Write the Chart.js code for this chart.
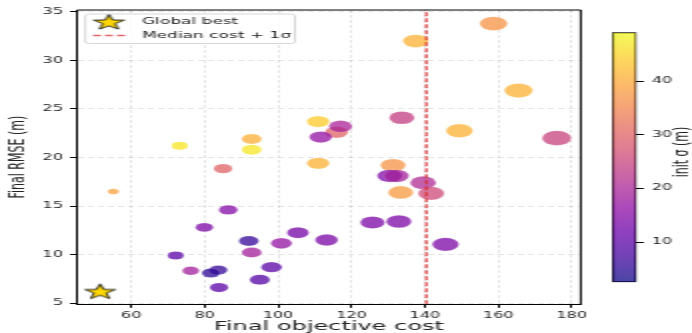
<!DOCTYPE html>
<html>
<head>
<meta charset="utf-8">
<script src="https://cdn.jsdelivr.net/npm/chart.js@4.4.1/dist/chart.umd.min.js"></script>
<style>
  html, body { margin: 0; padding: 0; background: #fff; overflow: hidden; }
  /* the reference image is stretched horizontally, so draw at half width and stretch */
  #wrap { position: absolute; left: 0; top: 0; width: 346px; height: 333px; transform: scaleX(2); transform-origin: 0 0; }
  #wrap canvas { position: absolute; left: 0; top: 0; }
</style>
</head>
<body>
<div id="wrap">
  <canvas id="main" width="346" height="333"></canvas>
  <canvas id="cbar" width="346" height="333"></canvas>
</div>
<script>
// final objective cost of each run
var cost = [73.2, 92.8, 92.8, 85.0, 86.4, 79.9, 92.0, 100.9, 105.4, 72.1,
            92.8, 98.2, 76.2, 83.7, 81.7, 95.0, 83.9, 110.9, 115.9, 117.0,
            111.6, 110.9, 133.7, 149.4, 131.3, 130.4, 132.2, 133.4, 139.5, 141.7,
            125.7, 132.9, 145.6, 113.2, 158.7, 137.5, 165.5, 175.9, 55.1];
// final RMSE (m)
var rmse = [21.2, 21.9, 20.8, 18.85, 14.6, 12.8, 11.4, 11.15, 12.25, 9.9,
            10.2, 8.7, 8.33, 8.4, 8.1, 7.4, 6.6, 23.7, 22.6, 23.2,
            22.1, 19.4, 24.1, 22.75, 19.2, 18.1, 18.1, 16.4, 17.4, 16.3,
            13.3, 13.4, 11.05, 11.5, 33.8, 32.0, 26.9, 22.0, 16.5];
// initial sigma (m), shown as colour
var sigma = [47, 40.5, 47, 30, 15, 14, 6, 17, 13, 10,
             19, 10, 19, 6, 5, 9, 10, 44, 30, 20,
             17, 41, 24, 41, 37, 14, 19, 38, 21, 26,
             14, 14, 14, 14, 37, 41, 41, 25, 39];

var bestCost = 51.5, bestRmse = 6.2;
var medianCost = 140.4;

var xTicks = [60, 80, 100, 120, 140, 160, 180];
var yTicks = [5, 10, 15, 20, 25, 30, 35];
var cbTicks = [10, 20, 30, 40];
var xMin = 45.2, xMax = 182.45, yMin = 4.87, yMax = 35.2;
var cbMin = 2.5, cbMax = 49.1;

var FONT = 'DejaVu Sans';
var TXT = '#222';

// plasma colormap
var plasmaStops = ['#0d0887', '#41049d', '#6a00a8', '#8f0da4', '#b12a90', '#cc4778',
                   '#e16462', '#f2844b', '#fca636', '#fcce25', '#f0f921'];
function hex(h) { return [parseInt(h.substr(1, 2), 16), parseInt(h.substr(3, 2), 16), parseInt(h.substr(5, 2), 16)]; }
function plasma(t, a) {
  t = Math.max(0, Math.min(1, t));
  var p = t * (plasmaStops.length - 1), i = Math.min(Math.floor(p), plasmaStops.length - 2), f = p - i;
  var c0 = hex(plasmaStops[i]), c1 = hex(plasmaStops[i + 1]);
  var c = [0, 1, 2].map(function (k) { return Math.round(c0[k] + (c1[k] - c0[k]) * f); });
  return 'rgba(' + c[0] + ',' + c[1] + ',' + c[2] + ',' + a + ')';
}
function norm(s) { return (s - cbMin) / (cbMax - cbMin); }

// star marker
function makeStar(R) {
  var size = Math.ceil(R * 2 + 4);
  var c = document.createElement('canvas');
  c.width = size; c.height = size;
  var g = c.getContext('2d');
  g.translate(size / 2, size / 2 + R * 0.08);
  g.beginPath();
  for (var i = 0; i < 10; i++) {
    var r = i % 2 ? R * 0.4 : R;
    var a = -Math.PI / 2 + i * Math.PI / 5;
    g.lineTo(r * Math.cos(a), r * Math.sin(a));
  }
  g.closePath();
  g.fillStyle = '#ffd700';
  g.fill();
  g.lineWidth = 0.9;
  g.strokeStyle = '#111';
  g.stroke();
  return c;
}
var starImg = makeStar(8);

// frame + legend box
var framePlugin = {
  id: 'frame',
  afterDraw: function (chart) {
    var ctx = chart.ctx, a = chart.chartArea;
    ctx.save();
    ctx.strokeStyle = '#000';
    ctx.lineWidth = 1;
    ctx.beginPath();
    ctx.moveTo(a.left, a.top); ctx.lineTo(a.right, a.top); ctx.lineTo(a.right, a.bottom);
    ctx.stroke();

    // legend
    var bx = 42.7, by = 14, bw = 104.8, bh = 29.5;
    ctx.fillStyle = 'rgba(255,255,255,0.8)';
    ctx.strokeStyle = '#cccccc';
    ctx.lineWidth = 0.8;
    ctx.beginPath();
    ctx.roundRect(bx, by, bw, bh, 2);
    ctx.fill(); ctx.stroke();

    ctx.drawImage(starImg, 54.5 - starImg.width / 2, 22 - starImg.height / 2);
    ctx.strokeStyle = 'rgba(214,39,40,0.7)';
    ctx.lineWidth = 1.5;
    ctx.setLineDash([4, 2]);
    ctx.beginPath(); ctx.moveTo(46.5, 35.5); ctx.lineTo(63.5, 35.5); ctx.stroke();
    ctx.setLineDash([]);

    ctx.fillStyle = TXT;
    ctx.font = '8.5px "' + FONT + '"';
    ctx.textBaseline = 'middle';
    ctx.textAlign = 'left';
    ctx.fillText(chart.data.datasets[1].label, 71, 22);
    ctx.fillText(chart.data.datasets[0].label, 71, 35.5);
    ctx.restore();
  }
};

var points = cost.map(function (c, i) { return { x: c, y: rmse[i] }; });

new Chart(document.getElementById('main'), {
  type: 'scatter',
  data: {
    datasets: [
      {
        type: 'line',
        label: 'Median cost + 1σ',
        data: [{ x: medianCost, y: yMin }, { x: medianCost, y: yMax }],
        borderColor: 'rgba(214,39,40,0.7)',
        borderWidth: 1.5,
        borderDash: [4, 2],
        pointRadius: 0,
        showLine: true
      },
      {
        label: 'Global best',
        data: [{ x: bestCost, y: bestRmse }],
        pointStyle: starImg,
        pointRadius: 8
      },
      {
        label: 'runs',
        data: points,
        // marker size grows with cost
        pointRadius: function (ctx) { return Math.pow(Math.max(ctx.raw.x - 45, 1), 0.4) + 0.3; },
        pointBackgroundColor: function (ctx) { return plasma(norm(sigma[ctx.dataIndex]), 0.75); },
        pointBorderColor: 'rgba(255,255,255,0.4)',
        pointBorderWidth: 0.4
      }
    ]
  },
  options: {
    responsive: false,
    animation: false,
    devicePixelRatio: 1,
    layout: { padding: { left: 0, right: 55.6, top: 10, bottom: 0 } },
    plugins: { legend: { display: false }, tooltip: { enabled: false } },
    scales: {
      x: {
        type: 'linear', min: xMin, max: xMax,
        afterBuildTicks: function (s) { s.ticks = xTicks.map(function (v) { return { value: v }; }); },
        afterFit: function (s) { s.height = 28.7; },
        grid: { color: 'rgba(0,0,0,0.13)', lineWidth: 0.8, tickLength: 3.5, tickColor: '#000', tickWidth: 1 },
        border: { display: true, color: '#000', width: 1, dash: [3, 2] },
        ticks: { autoSkip: false, maxRotation: 0, padding: 3, color: TXT, font: { family: FONT, size: 8 } },
        title: { display: true, text: 'Final objective cost', color: TXT, padding: 0,
                 font: { family: FONT, size: 12, lineHeight: 1 } }
      },
      y: {
        type: 'linear', min: yMin, max: yMax,
        afterBuildTicks: function (s) { s.ticks = yTicks.map(function (v) { return { value: v }; }); },
        afterFit: function (s) { s.width = 38.5; },
        grid: { color: 'rgba(0,0,0,0.13)', lineWidth: 0.8, tickLength: 3.5, tickColor: '#000', tickWidth: 1 },
        border: { display: true, color: '#000', width: 1, dash: [3, 2] },
        ticks: { padding: 3.5, color: TXT, font: { family: FONT, size: 8 } },
        title: { display: true, text: 'Final RMSE (m)', color: TXT, padding: { top: 2.4, bottom: 0 },
                 font: { family: FONT, size: 11 } }
      }
    }
  },
  plugins: [framePlugin]
});

// colour bar
var cbTitlePlugin = {
  id: 'cbTitle',
  afterDraw: function (chart) {
    var ctx = chart.ctx;
    ctx.save();
    ctx.translate(341.5, 152);
    ctx.rotate(-Math.PI / 2);
    ctx.fillStyle = TXT;
    ctx.font = '11px "' + FONT + '"';
    ctx.textAlign = 'center';
    ctx.textBaseline = 'middle';
    ctx.fillText('init σ (m)', 0, 0);
    ctx.restore();
  }
};

new Chart(document.getElementById('cbar'), {
  type: 'bar',
  data: {
    labels: ['σ'],
    datasets: [{
      data: [[cbMin, cbMax]],
      backgroundColor: function (ctx) {
        var a = ctx.chart.chartArea;
        if (!a) return null;
        var g = ctx.chart.ctx.createLinearGradient(0, a.bottom, 0, a.top);
        for (var i = 0; i <= 20; i++) g.addColorStop(i / 20, plasma(i / 20, 0.75));
        return g;
      },
      borderColor: '#222',
      borderWidth: 1,
      borderSkipped: false,
      barPercentage: 1,
      categoryPercentage: 1
    }]
  },
  options: {
    responsive: false,
    animation: false,
    devicePixelRatio: 1,
    layout: { padding: { left: 305.9, right: 0, top: 32.3, bottom: 50.7 } },
    plugins: { legend: { display: false }, tooltip: { enabled: false } },
    scales: {
      x: { display: false },
      y: {
        position: 'right', min: cbMin, max: cbMax,
        afterBuildTicks: function (s) { s.ticks = cbTicks.map(function (v) { return { value: v }; }); },
        afterFit: function (s) { s.width = 27.6; },
        grid: { drawOnChartArea: false, tickLength: 3.5, color: '#000', tickWidth: 1 },
        border: { display: false },
        ticks: { padding: 4, color: TXT, font: { family: FONT, size: 8 } }
      }
    }
  },
  plugins: [cbTitlePlugin]
});
</script>
</body>
</html>
